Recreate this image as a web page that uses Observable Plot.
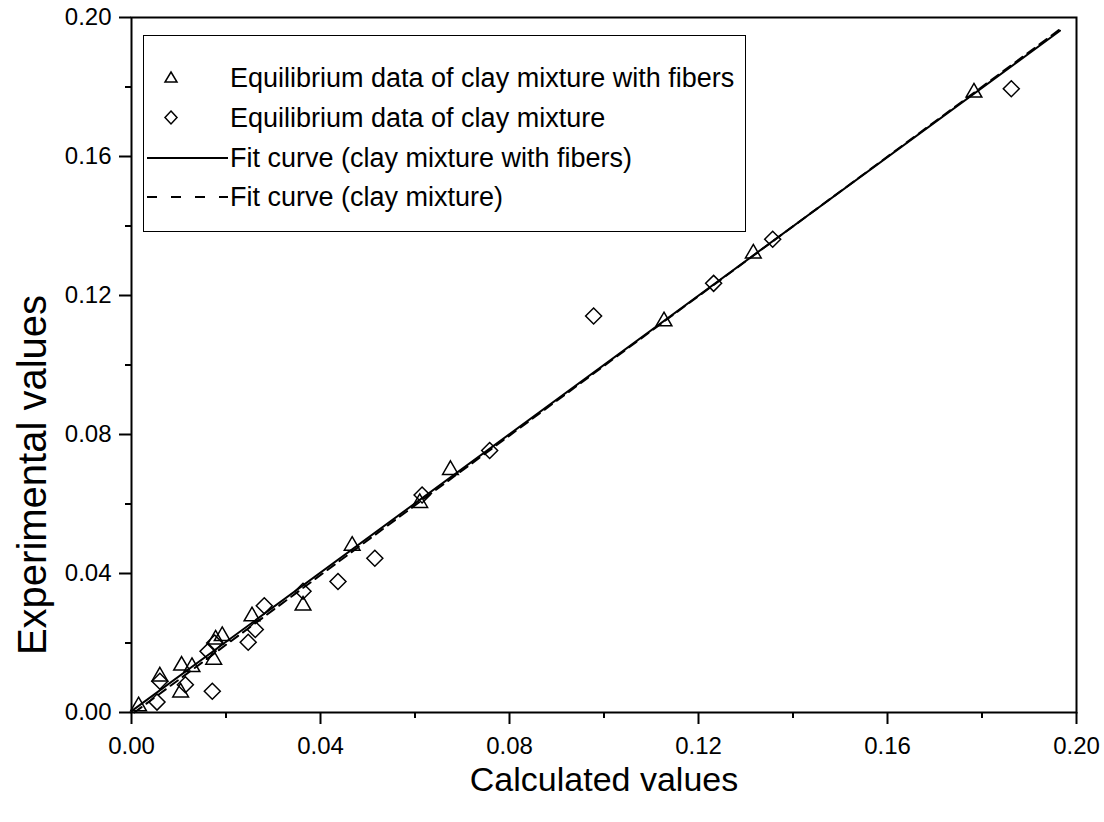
<!DOCTYPE html>
<html>
<head>
<meta charset="utf-8">
<script src="https://cdn.jsdelivr.net/npm/d3@7"></script>
<script src="https://cdn.jsdelivr.net/npm/@observablehq/plot@0.6"></script>
<style>
  html, body { margin: 0; padding: 0; background: #fff; }
  #wrap { position: relative; width: 1104px; height: 822px; font-family: "Liberation Sans", Arial, sans-serif; }
  #legend { position: absolute; left: 143px; top: 35px; width: 603px; height: 197px; box-sizing: border-box;
            border: 1.5px solid #000; background: #fff; }
  .row { position: absolute; left: 0; height: 30px; display: flex; align-items: center; font-size: 27px; color: #000; white-space: nowrap; }
  .row svg { width: 85px; height: 30px; flex: none; }
  .row span { margin-left: 1px; }
</style>
</head>
<body>
<div id="wrap"></div>
<script>
// Equilibrium data of clay mixture with fibers (calculated, experimental)
const fibersX = [0.0015, 0.0060, 0.0106, 0.0128, 0.0104, 0.0174, 0.0178, 0.0192, 0.0255, 0.0363, 0.0467, 0.0610, 0.0675, 0.1127, 0.1316, 0.1783];
const fibersY = [0.0018, 0.0104, 0.0135, 0.0131, 0.0058, 0.0152, 0.0210, 0.0220, 0.0277, 0.0308, 0.0480, 0.0603, 0.0698, 0.1126, 0.1321, 0.1784];
// Equilibrium data of clay mixture
const clayX = [0.0054, 0.0060, 0.0114, 0.0171, 0.0162, 0.0176, 0.0247, 0.0262, 0.0281, 0.0363, 0.0437, 0.0515, 0.0615, 0.0758, 0.0978, 0.1232, 0.1357, 0.1862];
const clayY = [0.0030, 0.0090, 0.0080, 0.0061, 0.0176, 0.0200, 0.0202, 0.0239, 0.0307, 0.0349, 0.0377, 0.0444, 0.0626, 0.0754, 0.1141, 0.1235, 0.1362, 0.1795];
// Fit lines (end points)
const fitFibersX = [0.0000, 0.1965];
const fitFibersY = [0.0004, 0.1962];
const fitClayX = [0.0006, 0.1965];
const fitClayY = [0.0000, 0.1966];
// Ticks
const majorTicks = [0, 0.04, 0.08, 0.12, 0.16, 0.20];
const minorTicks = [0.02, 0.06, 0.10, 0.14, 0.18];
const xTitle = "Calculated values";
const yTitle = "Experimental values";
const legendLabels = [
  "Equilibrium data of clay mixture with fibers",
  "Equilibrium data of clay mixture",
  "Fit curve (clay mixture with fibers)",
  "Fit curve (clay mixture)"
];

const fibers = fibersX.map((x, i) => ({x, y: fibersY[i]}));
const clay = clayX.map((x, i) => ({x, y: clayY[i]}));
const fitF = fitFibersX.map((x, i) => ({x, y: fitFibersY[i]}));
const fitC = fitClayX.map((x, i) => ({x, y: fitClayY[i]}));
const fmt = d3.format(".2f");
const blank = () => "";

const chart = Plot.plot({
  width: 1104,
  height: 822,
  marginLeft: 131,
  marginRight: 28,
  marginTop: 17,
  marginBottom: 110,
  style: {fontFamily: '"Liberation Sans", Arial, sans-serif', background: "#fff", color: "#000"},
  x: {domain: [0, 0.2]},
  y: {domain: [0, 0.2]},
  marks: [
    Plot.line(fitF, {x: "x", y: "y", stroke: "#000", strokeWidth: 2}),
    Plot.line(fitC, {x: "x", y: "y", stroke: "#000", strokeWidth: 2, strokeDasharray: "9,6"}),
    Plot.dot(fibers, {x: "x", y: "y", symbol: "triangle2", r: 7.5, stroke: "#000", strokeWidth: 1.5, fill: "none"}),
    Plot.dot(clay, {x: "x", y: "y", symbol: "diamond2", r: 7.2, stroke: "#000", strokeWidth: 1.5, fill: "none"}),
    Plot.axisX(majorTicks, {tickSize: 12, strokeWidth: 2, tickFormat: blank, label: null}),
    Plot.axisX(minorTicks, {tickSize: 6, strokeWidth: 2, tickFormat: blank, label: null}),
    Plot.axisY(majorTicks, {tickSize: 12, strokeWidth: 2, tickFormat: blank, label: null}),
    Plot.axisY(minorTicks, {tickSize: 6, strokeWidth: 2, tickFormat: blank, label: null}),
    // tick labels
    Plot.text(majorTicks, {x: d => d, frameAnchor: "bottom", text: fmt, lineAnchor: "top", textAnchor: "middle", dy: 24, fontSize: 24, fill: "#000"}),
    Plot.text(majorTicks, {y: d => d, frameAnchor: "left", text: fmt, lineAnchor: "middle", textAnchor: "end", dx: -20, fontSize: 24, fill: "#000"}),
    Plot.frame({stroke: "#000", strokeWidth: 2}),
    Plot.text([xTitle], {frameAnchor: "bottom", text: d => d, textAnchor: "middle", lineAnchor: "bottom", dy: 78, fontSize: 34, fill: "#000"}),
    Plot.text([yTitle], {frameAnchor: "left", text: d => d, textAnchor: "middle", rotate: -90, dx: -98, dy: 110, fontSize: 40, fill: "#000"})
  ]
});

const wrap = document.getElementById("wrap");
wrap.appendChild(chart);

// Legend overlay
const legend = document.createElement("div");
legend.id = "legend";
const rowCenters = [42, 82, 122, 161];
const symbols = [
  '<path d="M27,9 L33,19 L21,19 Z" fill="none" stroke="#000" stroke-width="1.5"/>',
  '<path d="M27,8 L33,14.5 L27,21 L21,14.5 Z" fill="none" stroke="#000" stroke-width="1.5"/>',
  '<line x1="3" y1="15" x2="84" y2="15" stroke="#000" stroke-width="2"/>',
  '<line x1="3" y1="15" x2="84" y2="15" stroke="#000" stroke-width="2" stroke-dasharray="10,14"/>'
];
legendLabels.forEach((lab, i) => {
  const row = document.createElement("div");
  row.className = "row";
  row.style.top = (rowCenters[i] - 15) + "px";
  row.innerHTML = '<svg viewBox="0 0 85 30">' + symbols[i] + '</svg>';
  const span = document.createElement("span");
  span.textContent = lab;
  row.appendChild(span);
  legend.appendChild(row);
});
wrap.appendChild(legend);
</script>
</body>
</html>
